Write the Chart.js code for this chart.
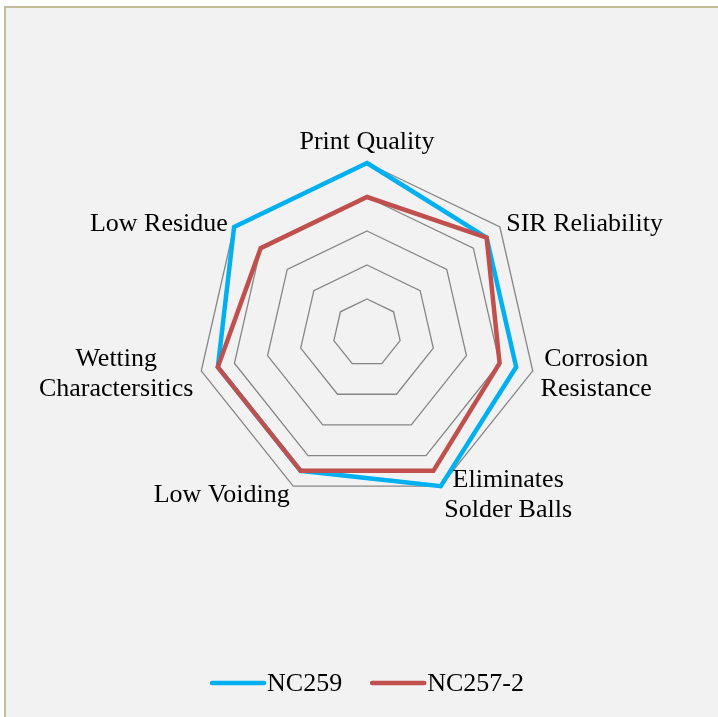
<!DOCTYPE html>
<html>
<head>
<meta charset="utf-8">
<script src="https://cdn.jsdelivr.net/npm/chart.js@4.4.0/dist/chart.umd.min.js"></script>
<style>
  html, body { margin: 0; padding: 0; background: #fff; overflow: hidden; }
  #frame {
    position: absolute; left: 4px; top: 6px; width: 800px; height: 800px;
    background: #f2f2f2;
    border-left: 2px solid #c4bd97; border-top: 2px solid #c4bd97;
  }
  #radar-chart { position: absolute; left: 0; top: 0; }
</style>
</head>
<body>
<div id="frame"></div>
<canvas id="radar-chart" width="718" height="717"></canvas>
<script>
// categories (multi-line ones as arrays)
const categories = [
  ["Print Quality"],
  ["SIR Reliability"],
  ["Corrosion", "Resistance"],
  ["Eliminates", "Solder Balls"],
  ["Low Voiding"],
  ["Wetting", "Charactersitics"],
  ["Low Residue"],
];
const nc259 = [5, 4.5, 4.5, 5, 4.5, 4.5, 5];
const nc257_2 = [4, 4.5, 4, 4.5, 4.5, 4.5, 4];
const scaleMin = 0;
const scaleMax = 5;
const scaleStep = 1;

const FONT = "26px 'Liberation Serif', 'Times New Roman', serif";

// point labels placed like Excel does it
const excelLabels = {
  id: "excelLabels",
  afterDraw(chart) {
    const scale = chart.scales.r;
    const ctx = chart.ctx;
    const lh = 30;
    const off = 8;
    ctx.save();
    ctx.font = FONT;
    ctx.fillStyle = "#000";
    ctx.textAlign = "center";
    ctx.textBaseline = "middle";
    chart.data.labels.forEach(function (lbl, i) {
      const lines = Array.isArray(lbl) ? lbl : [lbl];
      const p = scale.getPointPosition(i, scale.drawingArea + off);
      const ux = (p.x - scale.xCenter) / (scale.drawingArea + off);
      const uy = (p.y - scale.yCenter) / (scale.drawingArea + off);
      const w = Math.max(...lines.map((l) => ctx.measureText(l).width));
      const h = lines.length * lh;
      let cx = p.x;
      let cy = p.y + 2;
      if (Math.abs(ux) < 0.1) {
        cy += uy < 0 ? -h / 2 : h / 2;
      } else {
        cx = p.x + (ux > 0 ? w / 2 : -w / 2);
      }
      lines.forEach(function (l, k) {
        ctx.fillText(l, cx, cy - h / 2 + lh / 2 + k * lh);
      });
    });
    ctx.restore();
  },
};

// legend: line sample + text, centered under the radar
const excelLegend = {
  id: "excelLegend",
  afterDraw(chart) {
    const ctx = chart.ctx;
    const lineLen = 56;
    const gapText = 1;
    const gapItem = 28;
    ctx.save();
    ctx.font = FONT;
    const items = chart.data.datasets.map(function (ds) {
      return {
        text: ds.label,
        color: ds.borderColor,
        w: lineLen + gapText + ctx.measureText(ds.label).width,
      };
    });
    const total = items.reduce((s, it) => s + it.w, 0) + gapItem * (items.length - 1);
    let x = chart.scales.r.xCenter - total / 2;
    const y = chart.height - 34;
    items.forEach(function (it) {
      ctx.strokeStyle = it.color;
      ctx.lineWidth = 4.5;
      ctx.lineCap = "round";
      ctx.beginPath();
      ctx.moveTo(x + 2, y);
      ctx.lineTo(x + lineLen - 2, y);
      ctx.stroke();
      ctx.fillStyle = "#000";
      ctx.textAlign = "left";
      ctx.textBaseline = "middle";
      ctx.fillText(it.text, x + lineLen + gapText, y + 1);
      x += it.w + gapItem;
    });
    ctx.restore();
  },
};

new Chart(document.getElementById("radar-chart"), {
  type: "radar",
  data: {
    labels: categories,
    datasets: [
      {
        label: "NC259",
        data: nc259,
        borderColor: "#00b0f0",
        backgroundColor: "#00b0f0",
        borderWidth: 4.5,
        pointRadius: 0,
        pointHoverRadius: 0,
        fill: false,
        order: 1,
      },
      {
        label: "NC257-2",
        data: nc257_2,
        borderColor: "#c0504d",
        backgroundColor: "#c0504d",
        borderWidth: 4.5,
        pointRadius: 0,
        pointHoverRadius: 0,
        fill: false,
        order: 0,
      },
    ],
  },
  options: {
    responsive: false,
    animation: false,
    devicePixelRatio: 1,
    layout: { padding: { left: 197, right: 181, top: 163, bottom: 214 } },
    plugins: {
      legend: { display: false },
      tooltip: { enabled: false },
    },
    scales: {
      r: {
        min: scaleMin,
        max: scaleMax,
        ticks: { display: false, stepSize: scaleStep },
        pointLabels: { display: false },
        angleLines: { display: false },
        grid: { color: "#868686", lineWidth: 1.3 },
      },
    },
  },
  plugins: [excelLabels, excelLegend],
});
</script>
</body>
</html>
